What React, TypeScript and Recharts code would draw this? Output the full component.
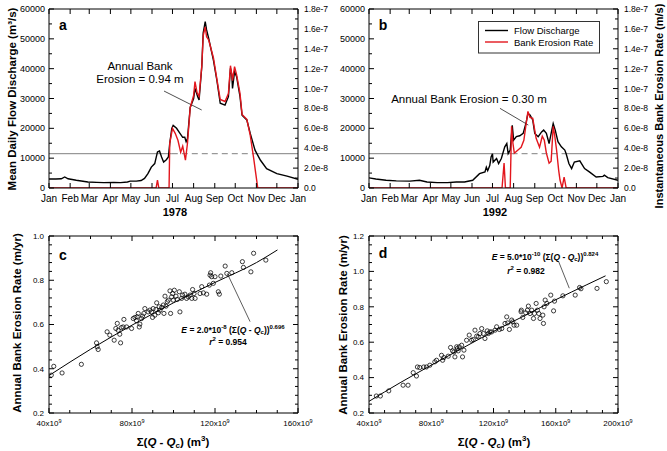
import React from "react";
import { ComposedChart, Line, Scatter, XAxis, YAxis, ReferenceLine } from "recharts";

const W = 667;
const H = 451;
const FONT = '"Liberation Sans", Arial, Helvetica, sans-serif';
const INK = "#000000";
const RED = "#e3161d";
const GREY = "#808080";

// month starts as day of year
const MONTH_DAYS = [0, 31, 59, 90, 120, 151, 181, 212, 243, 273, 304, 334, 365];
const MONTH_LABELS = ["Jan", "Feb", "Mar", "Apr", "May", "Jun", "Jul", "Aug", "Sep", "Oct", "Nov", "Dec", "Jan"];
const Q_TICKS = [0, 5000, 10000, 15000, 20000, 25000, 30000, 35000, 40000, 45000, 50000, 55000, 60000];
const RATE_TICKS = [0, 1e-8, 2e-8, 3e-8, 4e-8, 5e-8, 6e-8, 7e-8, 8e-8, 9e-8, 1e-7, 1.1e-7, 1.2e-7, 1.3e-7, 1.4e-7, 1.5e-7, 1.6e-7, 1.7e-7, 1.8e-7];
const QC = 11500; // critical discharge line

// [day, m3/s]
const FLOW_1978 = [
  [0, 3000], [10, 3000], [18, 3100], [23, 3700], [28, 3100], [40, 2600], [57, 2000], [70, 1900], [80, 1800],
  [95, 1900], [105, 1800], [115, 2000], [119, 2300], [128, 2300], [135, 2500], [140, 3200], [145, 4800],
  [150, 7000], [155, 8200], [159, 12100], [162, 12400], [165, 10400], [168, 8700], [172, 9500], [175, 10400],
  [177, 15000], [180, 20000], [182, 21000], [187, 20000], [192, 18300], [196, 17000], [199, 17000], [201, 15500],
  [203, 16600], [207, 27000], [212, 30000], [214, 33400], [218, 30600], [220, 29500], [224, 40700], [226, 51900],
  [229, 55800], [231, 53000], [234, 50200], [241, 42900], [246, 36200], [251, 28400], [258, 27800], [263, 30600],
  [266, 40100], [268, 37900], [269, 33400], [272, 39000], [275, 37300], [280, 30600], [283, 24400], [290, 22800],
  [295, 18300], [302, 12700], [310, 9300], [319, 6500], [334, 4800], [349, 4000], [365, 2900],
];
// [day, m/s]
const RATE_1978 = [
  [0, 0], [157, 0], [159, 0.8e-8], [161, 0], [176, 0], [177, 4.5e-8], [181, 6.0e-8], [185, 5.5e-8], [189, 4.8e-8],
  [193, 3.6e-8], [196, 4.2e-8], [200, 2.8e-8], [203, 4.5e-8], [207, 8.1e-8], [212, 9.3e-8], [214, 10.7e-8],
  [217, 9.6e-8], [220, 9.2e-8], [224, 12.3e-8], [226, 15.3e-8], [229, 16.2e-8], [231, 15.2e-8], [234, 14.9e-8],
  [241, 13.1e-8], [246, 11.0e-8], [251, 8.9e-8], [258, 8.7e-8], [263, 9.5e-8], [266, 12.3e-8], [268, 11.4e-8],
  [269, 10.8e-8], [272, 12.2e-8], [275, 11.4e-8], [280, 9.5e-8], [283, 7.4e-8], [290, 6.9e-8], [295, 5.3e-8],
  [300, 3.0e-8], [303, 1.5e-8], [306, 0], [365, 0],
];
const FLOW_1992 = [
  [0, 3400], [10, 3000], [25, 2600], [40, 2400], [60, 2300], [74, 2600], [85, 2000], [100, 1800], [115, 1800],
  [128, 2000], [140, 2000], [152, 2600], [162, 4800], [170, 5400], [172, 7000], [174, 5800], [177, 7500],
  [179, 10400], [181, 11500], [182, 8700], [187, 9900], [190, 8200], [194, 9900], [199, 13800], [202, 14900],
  [204, 11500], [207, 12700], [210, 21000], [212, 16000], [216, 17200], [221, 17500], [226, 18300], [230, 21600],
  [233, 25000], [236, 24500], [240, 22800], [243, 18300], [248, 17200], [253, 18800], [256, 19400], [260, 18300],
  [264, 14900], [267, 18300], [270, 21600], [273, 19400], [277, 15500], [282, 13800], [287, 12700], [289, 11500],
  [293, 8200], [297, 6500], [301, 8700], [309, 9100], [316, 6500], [323, 5400], [333, 3700], [343, 3900],
  [345, 4300], [350, 3500], [365, 2600],
];
const RATE_1992 = [
  [0, 0], [195, 0], [198, 2.5e-8], [200, 0], [207, 0], [209, 6.2e-8], [211, 4.5e-8], [213, 3.5e-8], [218, 3.8e-8],
  [223, 4.1e-8], [227, 4.8e-8], [230, 6.3e-8], [233, 7.7e-8], [236, 7.1e-8], [240, 7.0e-8], [243, 5.8e-8],
  [245, 5.0e-8], [250, 4.1e-8], [254, 5.2e-8], [257, 4.8e-8], [260, 3.5e-8], [264, 2.5e-8], [267, 2.7e-8],
  [270, 6.2e-8], [272, 5.4e-8], [275, 3.8e-8], [278, 1.8e-8], [280, 0.8e-8], [283, 0], [286, 1.1e-8],
  [287, 0.75e-8], [289, 0], [365, 0],
];

// [cumulative excess volume (x10^9 m3), annual erosion (m/yr)]
const PTS_C = [
  [41.1, 0.371], [42.3, 0.411], [46.3, 0.381], [55.6, 0.42], [62.9, 0.517], [63.2, 0.499], [63.7, 0.487],
  [68.0, 0.567], [69.3, 0.552], [71.4, 0.529], [72.2, 0.582], [72.9, 0.605], [73.3, 0.574], [74.1, 0.556],
  [74.5, 0.517], [74.9, 0.586], [75.7, 0.589], [76.1, 0.623], [77.4, 0.589], [79.8, 0.582], [80.6, 0.627],
  [81.4, 0.632], [82.2, 0.617], [82.5, 0.635], [83.0, 0.65], [83.5, 0.589], [83.8, 0.602], [84.6, 0.627],
  [85.1, 0.638], [85.7, 0.65], [86.2, 0.672], [87.8, 0.657], [88.6, 0.665], [89.4, 0.657], [89.9, 0.632],
  [90.2, 0.672], [91.0, 0.642], [91.5, 0.668], [91.9, 0.698], [92.7, 0.653], [93.1, 0.68], [93.5, 0.665],
  [94.3, 0.677], [95.1, 0.688], [95.4, 0.65], [95.9, 0.728], [96.4, 0.683], [97.0, 0.703], [97.5, 0.71],
  [98.3, 0.752], [98.6, 0.65], [99.1, 0.725], [99.6, 0.74], [99.9, 0.71], [100.4, 0.755], [101.2, 0.728],
  [101.8, 0.713], [102.8, 0.748], [103.1, 0.657], [103.9, 0.718], [104.4, 0.733], [105.5, 0.737], [106.3, 0.718],
  [107.1, 0.725], [108.0, 0.733], [108.8, 0.718], [109.2, 0.758], [109.9, 0.74], [110.4, 0.718], [112.8, 0.74],
  [113.6, 0.771], [114.4, 0.743], [116.0, 0.737], [117.3, 0.778], [117.6, 0.823], [117.9, 0.834], [118.4, 0.816],
  [119.2, 0.786], [120.0, 0.816], [121.6, 0.748], [122.1, 0.737], [122.8, 0.819], [124.9, 0.864], [125.7, 0.831],
  [128.1, 0.834], [133.2, 0.884], [133.7, 0.858], [137.3, 0.838], [138.6, 0.922], [144.5, 0.891],
];
const FIT_C = [[40.3, 0.371], [60, 0.488], [80, 0.597], [100, 0.698], [120, 0.79], [140, 0.88], [150.1, 0.937]];

const PTS_D = [
  [44.7, 0.296], [47.3, 0.296], [52.7, 0.325], [61.9, 0.357], [65.1, 0.357], [68.4, 0.428], [70.5, 0.409],
  [71.1, 0.46], [72.6, 0.457], [75.2, 0.46], [76.9, 0.46], [79.1, 0.47], [82.3, 0.489], [83.4, 0.498],
  [86.6, 0.526], [87.3, 0.498], [88.1, 0.513], [90.9, 0.521], [92.4, 0.57], [93.7, 0.551], [94.6, 0.545],
  [95.2, 0.517], [96.3, 0.574], [96.7, 0.564], [97.3, 0.551], [98.0, 0.574], [99.5, 0.583], [100.1, 0.517],
  [101.0, 0.555], [102.7, 0.611], [104.4, 0.64], [105.9, 0.611], [107.0, 0.615], [108.1, 0.668], [109.2, 0.634],
  [110.2, 0.63], [111.3, 0.649], [112.4, 0.677], [113.5, 0.649], [114.5, 0.621], [116.0, 0.664], [116.7, 0.649],
  [117.7, 0.658], [118.8, 0.658], [121.0, 0.668], [122.0, 0.687], [123.8, 0.672], [125.3, 0.677], [127.4, 0.706],
  [128.5, 0.743], [129.1, 0.709], [130.2, 0.672], [131.7, 0.725], [132.4, 0.715], [133.2, 0.696], [134.9, 0.696],
  [137.7, 0.772], [137.9, 0.781], [138.8, 0.74], [140.7, 0.766], [141.8, 0.781], [142.4, 0.804], [143.5, 0.762],
  [144.6, 0.781], [145.7, 0.734], [146.3, 0.762], [147.4, 0.819], [148.2, 0.781], [149.1, 0.762], [149.9, 0.734],
  [151.7, 0.753], [152.1, 0.706], [152.5, 0.8], [153.2, 0.838], [154.3, 0.819], [156.8, 0.866], [158.6, 0.777],
  [159.2, 0.832], [164.6, 0.862], [172.5, 0.866], [175.3, 0.909], [176.2, 0.902], [186.5, 0.904], [192.5, 0.942],
];
const FIT_D = [[40, 0.266], [60, 0.371], [80, 0.47], [100, 0.566], [120, 0.661], [140, 0.75], [160, 0.84], [180, 0.925], [192, 0.975]];

const C_X_TICKS = [40, 50, 60, 70, 80, 90, 100, 110, 120, 130, 140, 150, 160];
const D_X_TICKS = [40, 50, 60, 70, 80, 90, 100, 110, 120, 130, 140, 150, 160, 170, 180, 190, 200];
const C_Y_TICKS = [0.2, 0.24, 0.28, 0.32, 0.36, 0.4, 0.44, 0.48, 0.52, 0.56, 0.6, 0.64, 0.68, 0.72, 0.76, 0.8, 0.84, 0.88, 0.92, 0.96, 1.0];
const D_Y_TICKS = [0.2, 0.25, 0.3, 0.35, 0.4, 0.45, 0.5, 0.55, 0.6, 0.65, 0.7, 0.75, 0.8, 0.85, 0.9, 0.95, 1.0, 1.05, 1.1, 1.15, 1.2];

// plot rectangles in page pixels
const RA = { l: 49, r: 298, t: 9, b: 188 };
const RB = { l: 369, r: 618, t: 9, b: 188 };
const RC = { l: 49, r: 298, t: 236, b: 413 };
const RD = { l: 369, r: 618, t: 236, b: 413 };

type Rect = { l: number; r: number; t: number; b: number };
// every axis gets a 1px band, so take it off the margin
const AX = 1;
const margins = (rc: Rect) => ({ top: rc.t - AX, left: rc.l - AX, right: W - rc.r - AX, bottom: H - rc.b - AX });

type TickOpts = {
  side: "bottom" | "top" | "left" | "right";
  at: number;
  isMajor: (v: number) => boolean;
  label?: (v: number) => React.ReactNode;
  gap?: number;
  size?: number;
};

// inward tick marks, labels outside
function tickRenderer(o: TickOpts) {
  return (p: any) => {
    const v = p.payload.value;
    const big = o.isMajor(v);
    const len = big ? 5 : 3;
    const lab = big && o.label ? o.label(v) : null;
    const gap = o.gap ?? 4;
    const fs = o.size ?? 9;
    if (o.side === "bottom" || o.side === "top") {
      const x = p.x;
      const dir = o.side === "bottom" ? -1 : 1;
      return (
        <g>
          <line x1={x} x2={x} y1={o.at} y2={o.at + dir * len} stroke={INK} strokeWidth={1} />
          {lab != null && (
            <text x={x} y={o.at + gap} dy="0.71em" textAnchor="middle" fontSize={fs} fontFamily={FONT} fill={INK}>
              {lab}
            </text>
          )}
        </g>
      );
    }
    const y = p.y;
    const dir = o.side === "left" ? 1 : -1;
    return (
      <g>
        <line x1={o.at} x2={o.at + dir * len} y1={y} y2={y} stroke={INK} strokeWidth={1} />
        {lab != null && (
          <text
            x={o.side === "left" ? o.at - gap : o.at + gap}
            y={y}
            dy="0.35em"
            textAnchor={o.side === "left" ? "end" : "start"}
            fontSize={fs}
            fontFamily={FONT}
            fill={INK}
          >
            {lab}
          </text>
        )}
      </g>
    );
  };
}

const rateLabel = (v: number) => (v === 0 ? "0.0" : v.toExponential(1));
const gigaLabel = (v: number) => (
  <>
    {v}x10<tspan dy={-3} fontSize={5.5}>9</tspan>
  </>
);

type HydroProps = {
  rc: Rect;
  flow: number[][];
  rate: number[][];
  dash: [number, number];
  pointer: { x: number; y: number }[];
};

function Hydrograph({ rc, flow, rate, dash, pointer }: HydroProps) {
  const q = flow.map(([day, v]) => ({ day, q: v }));
  const e = rate.map(([day, v]) => ({ day, e: v }));
  const seg = (a: number, b: number) => [{ x: a, y: QC }, { x: b, y: QC }];
  return (
    <div style={{ position: "absolute", left: 0, top: 0 }}>
      <ComposedChart width={W} height={H} margin={margins(rc)}>
        <XAxis xAxisId="x" type="number" dataKey="day" domain={[0, 365]} ticks={MONTH_DAYS} interval={0}
          height={AX} tickSize={0} tickLine={false} allowDataOverflow axisLine={{ stroke: INK }}
          tick={tickRenderer({ side: "bottom", at: rc.b, isMajor: () => true, label: (v) => MONTH_LABELS[MONTH_DAYS.indexOf(v)], gap: 7, size: 10 })} />
        <XAxis xAxisId="xt" orientation="top" type="number" dataKey="day" domain={[0, 365]} ticks={MONTH_DAYS} interval={0}
          height={AX} tickSize={0} tickLine={false} allowDataOverflow axisLine={{ stroke: INK }}
          tick={tickRenderer({ side: "top", at: rc.t, isMajor: () => true })} />
        <YAxis yAxisId="q" type="number" domain={[0, 60000]} ticks={Q_TICKS} interval={0} width={AX} tickSize={0}
          tickLine={false} allowDataOverflow axisLine={{ stroke: INK }}
          tick={tickRenderer({ side: "left", at: rc.l, isMajor: (v) => v % 10000 === 0, label: (v) => String(v), gap: 4, size: 9 })} />
        <YAxis yAxisId="e" orientation="right" type="number" domain={[0, 1.8e-7]} ticks={RATE_TICKS} interval={0} width={AX}
          tickSize={0} tickLine={false} allowDataOverflow axisLine={{ stroke: INK }}
          tick={tickRenderer({ side: "right", at: rc.r, isMajor: (v) => Math.round(v / 1e-8) % 2 === 0, label: rateLabel, gap: 6, size: 8.5 })} />
        <ReferenceLine xAxisId="x" yAxisId="q" segment={seg(0, dash[0])} stroke={GREY} strokeWidth={1} />
        <ReferenceLine xAxisId="x" yAxisId="q" segment={seg(dash[0], dash[1])} stroke={GREY} strokeWidth={1} strokeDasharray="6 4" />
        <ReferenceLine xAxisId="x" yAxisId="q" segment={seg(dash[1], 365)} stroke={GREY} strokeWidth={1} />
        <ReferenceLine xAxisId="x" yAxisId="q" segment={pointer} stroke="#222" strokeWidth={0.8} />
        <Line data={q} xAxisId="x" yAxisId="q" dataKey="q" type="linear" stroke={INK} strokeWidth={1.4} dot={false} isAnimationActive={false} />
        <Line data={e} xAxisId="x" yAxisId="e" dataKey="e" type="linear" stroke={RED} strokeWidth={1.4} dot={false} isAnimationActive={false} />
      </ComposedChart>
    </div>
  );
}

const Ring = (p: any) => <circle cx={p.cx} cy={p.cy} r={2.1} fill="none" stroke={INK} strokeWidth={0.75} />;

type ScatterProps = {
  rc: Rect;
  pts: number[][];
  fit: number[][];
  xTicks: number[];
  yTicks: number[];
  yMax: number;
  pointer: { x: number; y: number }[];
};

function ScatterPanel({ rc, pts, fit, xTicks, yTicks, yMax, pointer }: ScatterProps) {
  const dots = pts.map(([x, y]) => ({ x, y }));
  const line = fit.map(([x, y]) => ({ x, y }));
  const xMax = xTicks[xTicks.length - 1];
  const yMajor = (v: number) => Math.abs(v * 5 - Math.round(v * 5)) < 1e-6;
  return (
    <div style={{ position: "absolute", left: 0, top: 0 }}>
      <ComposedChart width={W} height={H} margin={margins(rc)}>
        <XAxis xAxisId="x" type="number" dataKey="x" domain={[40, xMax]} ticks={xTicks} interval={0} height={AX}
          tickSize={0} tickLine={false} allowDataOverflow axisLine={{ stroke: INK }}
          tick={tickRenderer({ side: "bottom", at: rc.b, isMajor: (v) => v % 40 === 0, label: gigaLabel, gap: 7.5, size: 8 })} />
        <XAxis xAxisId="xt" orientation="top" type="number" dataKey="x" domain={[40, xMax]} ticks={xTicks} interval={0}
          height={AX} tickSize={0} tickLine={false} allowDataOverflow axisLine={{ stroke: INK }}
          tick={tickRenderer({ side: "top", at: rc.t, isMajor: (v) => v % 40 === 0 })} />
        <YAxis yAxisId="y" type="number" dataKey="y" domain={[0.2, yMax]} ticks={yTicks} interval={0} width={AX}
          tickSize={0} tickLine={false} allowDataOverflow axisLine={{ stroke: INK }}
          tick={tickRenderer({ side: "left", at: rc.l, isMajor: yMajor, label: (v) => v.toFixed(1), gap: 5, size: 8 })} />
        <YAxis yAxisId="yr" orientation="right" type="number" dataKey="y" domain={[0.2, yMax]} ticks={yTicks} interval={0}
          width={AX} tickSize={0} tickLine={false} allowDataOverflow axisLine={{ stroke: INK }}
          tick={tickRenderer({ side: "right", at: rc.r, isMajor: yMajor })} />
        <ReferenceLine xAxisId="x" yAxisId="y" segment={pointer} stroke="#333" strokeWidth={0.8} />
        <Line data={line} xAxisId="x" yAxisId="y" dataKey="y" type="monotone" stroke={INK} strokeWidth={1} dot={false} isAnimationActive={false} />
        <Scatter data={dots} xAxisId="x" yAxisId="y" dataKey="y" shape={Ring} isAnimationActive={false} />
      </ComposedChart>
    </div>
  );
}

type TxtProps = {
  x: number;
  y: number;
  size?: number;
  bold?: boolean;
  rotate?: boolean;
  anchor?: "start" | "middle" | "end";
  children: React.ReactNode;
};
const Txt = ({ x, y, size = 11.5, bold = false, rotate = false, anchor = "middle", children }: TxtProps) => (
  <text
    x={x}
    y={y}
    fontSize={size}
    fontWeight={bold ? "bold" : "normal"}
    fontFamily={FONT}
    textAnchor={anchor}
    dominantBaseline="central"
    fill={INK}
    transform={rotate ? `rotate(-90 ${x} ${y})` : undefined}
  >
    {children}
  </text>
);

const SumTitle = ({ x, y }: { x: number; y: number }) => (
  <Txt x={x} y={y} bold>
    Σ(<tspan fontStyle="italic">Q</tspan> - <tspan fontStyle="italic">Q</tspan>
    <tspan dy={3} fontSize={8}>c</tspan>
    <tspan dy={-3}>) (m</tspan>
    <tspan dy={-4} fontSize={8}>3</tspan>
    <tspan dy={4}>)</tspan>
  </Txt>
);

const Equation = ({ x, y, coef, exp, pow }: { x: number; y: number; coef: string; exp: string; pow: string }) => (
  <Txt x={x} y={y} size={8.5} bold>
    <tspan fontStyle="italic">E</tspan> = {coef}*10<tspan dy={-3} fontSize={6}>{exp}</tspan>
    <tspan dy={3}> (Σ(</tspan>
    <tspan fontStyle="italic">Q</tspan> - <tspan fontStyle="italic">Q</tspan>
    <tspan dy={2} fontSize={6}>c</tspan>
    <tspan dy={-2}>))</tspan>
    <tspan dy={-3} fontSize={6}>{pow}</tspan>
  </Txt>
);

const RSq = ({ x, y, val }: { x: number; y: number; val: string }) => (
  <Txt x={x} y={y} size={8.5} bold>
    <tspan fontStyle="italic">r</tspan>
    <tspan dy={-3} fontSize={6}>2</tspan>
    <tspan dy={3}> = {val}</tspan>
  </Txt>
);

function Overlay() {
  return (
    <svg width={W} height={H} style={{ position: "absolute", left: 0, top: 0 }}>
      <Txt x={12} y={99} bold rotate>Mean Daily Flow Discharge (m³/s)</Txt>
      <Txt x={659} y={106} size={11} bold rotate>Instantaneous Bank Erosion Rate (m/s)</Txt>
      <Txt x={17} y={323} bold rotate>Annual Bank Erosion Rate (m/yr)</Txt>
      <Txt x={343} y={325} bold rotate>Annual Bank Erosion Rate (m/yr)</Txt>
      <Txt x={175} y={212} size={11} bold>1978</Txt>
      <Txt x={495} y={212} size={11} bold>1992</Txt>
      <SumTitle x={173} y={442} />
      <SumTitle x={494} y={442} />
      <Txt x={63} y={25} size={14} bold>a</Txt>
      <Txt x={383} y={25} size={14} bold>b</Txt>
      <Txt x={63} y={255} size={14} bold>c</Txt>
      <Txt x={383} y={253} size={14} bold>d</Txt>
      <Txt x={140} y={66}>Annual Bank</Txt>
      <Txt x={140} y={79}>Erosion = 0.94 m</Txt>
      <Txt x={469} y={99}>Annual Bank Erosion = 0.30 m</Txt>
      <Equation x={233} y={330} coef="2.0" exp="-8" pow="0.696" />
      <RSq x={228} y={342} val="0.954" />
      <Equation x={545} y={257} coef="5.0" exp="-10" pow="0.824" />
      <RSq x={526} y={271} val="0.982" />
      {/* legend */}
      <rect x={478.5} y={21.5} width={121} height={31.5} fill="#fff" stroke="#333" strokeWidth={1} />
      <line x1={485} x2={508} y1={30.5} y2={30.5} stroke={INK} strokeWidth={1.4} />
      <line x1={485} x2={508} y1={42} y2={42} stroke={RED} strokeWidth={1.4} />
      <Txt x={514} y={30.5} size={9.5} anchor="start">Flow Discharge</Txt>
      <Txt x={514} y={42} size={9.5} anchor="start">Bank Erosion Rate</Txt>
    </svg>
  );
}

export default function App() {
  return (
    <div style={{ position: "absolute", left: 0, top: 0, width: W, height: H, background: "#fff", overflow: "hidden" }}>
      <Hydrograph rc={RA} flow={FLOW_1978} rate={RATE_1978} dash={[180, 306]}
        pointer={[{ x: 168.6, y: 32500 }, { x: 223.8, y: 26150 }]} />
      <Hydrograph rc={RB} flow={FLOW_1992} rate={RATE_1992} dash={[209, 289]}
        pointer={[{ x: 192, y: 26700 }, { x: 233.5, y: 21100 }]} />
      <ScatterPanel rc={RC} pts={PTS_C} fit={FIT_C} xTicks={C_X_TICKS} yTicks={C_Y_TICKS} yMax={1.0}
        pointer={[{ x: 125.9, y: 0.831 }, { x: 136.9, y: 0.613 }]} />
      <ScatterPanel rc={RD} pts={PTS_D} fit={FIT_D} xTicks={D_X_TICKS} yTicks={D_Y_TICKS} yMax={1.2}
        pointer={[{ x: 161.7, y: 1.059 }, { x: 168.7, y: 0.905 }]} />
      <Overlay />
    </div>
  );
}
